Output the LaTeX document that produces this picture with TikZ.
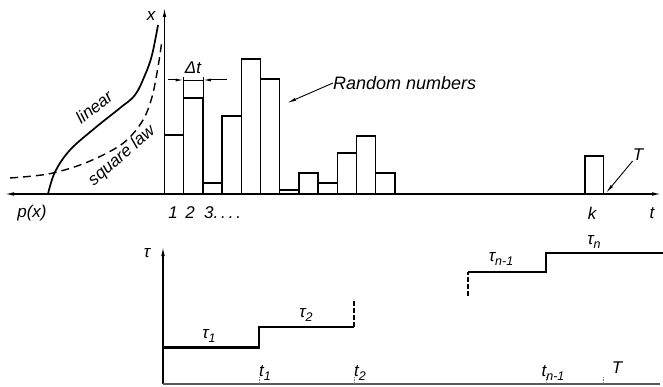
\documentclass[tikz,border=0pt]{standalone}
\usepackage{fontspec}
\setmainfont{Liberation Sans}
\usetikzlibrary{arrows.meta,positioning,calc}
\newcommand{\lowidx}[1]{\raisebox{-0.35ex}{\fontsize{12.5}{14}\selectfont #1}}

\begin{document}
\begin{tikzpicture}[x=1pt, y=-1pt,
    axis/.style={line width=1.1pt, -{Latex[length=9pt, width=3.6pt]}},
    bar/.style={draw, line width=1.5pt},
    lbl/.style={font=\fontsize{17}{20}\selectfont\itshape, inner sep=0pt},
    stair/.style={line width=2.2pt},
    pointer/.style={line width=0.9pt, -{Latex[length=9pt, width=3pt]}},
    tick/.style={gray, line width=0.6pt, densely dotted}]
    \useasboundingbox (0,0) rectangle (663,387);

    % Upper part: axes
    \coordinate (o) at (164.5,194);
    \coordinate (xtop) at (164.5,8);
    \coordinate (pend) at (5,194);
    \coordinate (tend) at (661,194);
    \draw[axis] (o) -- (xtop);
    \draw[axis] (o) -- (pend);
    \draw[axis] (o) -- (tend);
    \node[lbl] (xl) at (151,16) {x};
    \node[lbl] (pl) at (32,213) {p(x)};
    \node[lbl] (tl) at (652,213) {t};

    % Distribution curves
    \draw[line width=1.7pt] plot[smooth, tension=0.6] coordinates {(48,194) (55,172) (70,150) (95,128) (120,108) (135,95) (145,75) (152,55) (158,25)};
    \draw[line width=1.4pt, dash pattern=on 8pt off 5pt] plot[smooth, tension=0.6] coordinates {(10,178) (33,176) (53,173) (80,165) (107,153) (127,140) (143,120) (152,97) (158,67) (162,40)};
    \node[lbl, rotate=38] (lin) at (94,107) {linear};
    \node[lbl, rotate=41] (sq) at (122,156) {square law};

    % Random numbers
    \foreach \h [count=\i from 0] in {135,98,183,116,59,79,190,173,183,153,136,173}
        \draw[bar] ({164.5+19.2*\i},194) rectangle ({164.5+19.2*(\i+1)},\h);
    \node[lbl] (n1) at (173,213) {1};
    \node[lbl] (n2) at (190,213) {2};
    \node[lbl, anchor=west] (n3) at (204,213) {3.\,.\,.\,.};
    \node[lbl, font=\fontsize{18}{21}\selectfont\itshape, anchor=west] (rn) at (333,83) {Random numbers};
    \coordinate (rtip) at (287,103);
    \draw[pointer] (rn.west) -- (rtip);

    % Interval
    \coordinate (dl) at (183.7,80);
    \coordinate (dr) at (202.9,80);
    \draw[line width=0.5pt] (183.7,98) -- (183.7,77) (202.9,98) -- (202.9,77);
    \draw[line width=1pt, -{Latex[length=8pt, width=3pt]}] (168,80) -- (dl);
    \draw[line width=1pt, -{Latex[length=8pt, width=3pt]}] (227,80) -- (dr);
    \draw[line width=0.6pt] (dl) -- (dr);
    \node[lbl] (dt) at (193,68) {Δt};

    % Last number
    \draw[bar] (585,194) rectangle (603.5,156);
    \node[lbl] (kl) at (592,213) {k};
    \node[lbl] (Tl) at (638,155) {T};
    \coordinate (Ttip) at (606,193);
    \draw[pointer] (Tl.south west) -- (Ttip);

    % Lower part: time intervals
    \coordinate (o2) at (163,384);
    \coordinate (tautop) at (163,247);
    \coordinate (t2end) at (660,384);
    \draw[axis] (o2) -- (tautop);
    \draw[line width=1.1pt, black!65] (o2) -- (t2end);
    \node[lbl] (taul) at (147,253) {τ};

    \draw[stair] (163,347.5) -- (259,347.5) -- (259,327) -- (354,327);
    \draw[line width=2pt, dash pattern=on 5pt off 2pt] (354,327) -- (354,299);
    \draw[line width=2pt, dash pattern=on 5pt off 2pt] (468,296) -- (468,272);
    \draw[stair] (468,272) -- (546,272) -- (546,253) -- (663,253);

    \node[lbl] (tau1) at (209,336) {τ\lowidx{1}};
    \node[lbl] (tau2) at (306,315) {τ\lowidx{2}};
    \node[lbl] (taun1) at (501,259) {τ\lowidx{n-1}};
    \node[lbl] (taun) at (594,242) {τ\lowidx{n}};

    % Time marks
    \draw[tick] (259,384) -- (259,377);
    \draw[tick] (354,384) -- (354,377);
    \draw[tick] (546,384) -- (546,377);
    \draw[tick] (603,384) -- (603,377);
    \node[lbl] (t1) at (265,373) {t\lowidx{1}};
    \node[lbl] (t2) at (360,373) {t\lowidx{2}};
    \node[lbl] (tn1) at (553,373) {t\lowidx{n-1}};
    \node[lbl] (Tb) at (617,368) {T};
\end{tikzpicture}
\end{document}
